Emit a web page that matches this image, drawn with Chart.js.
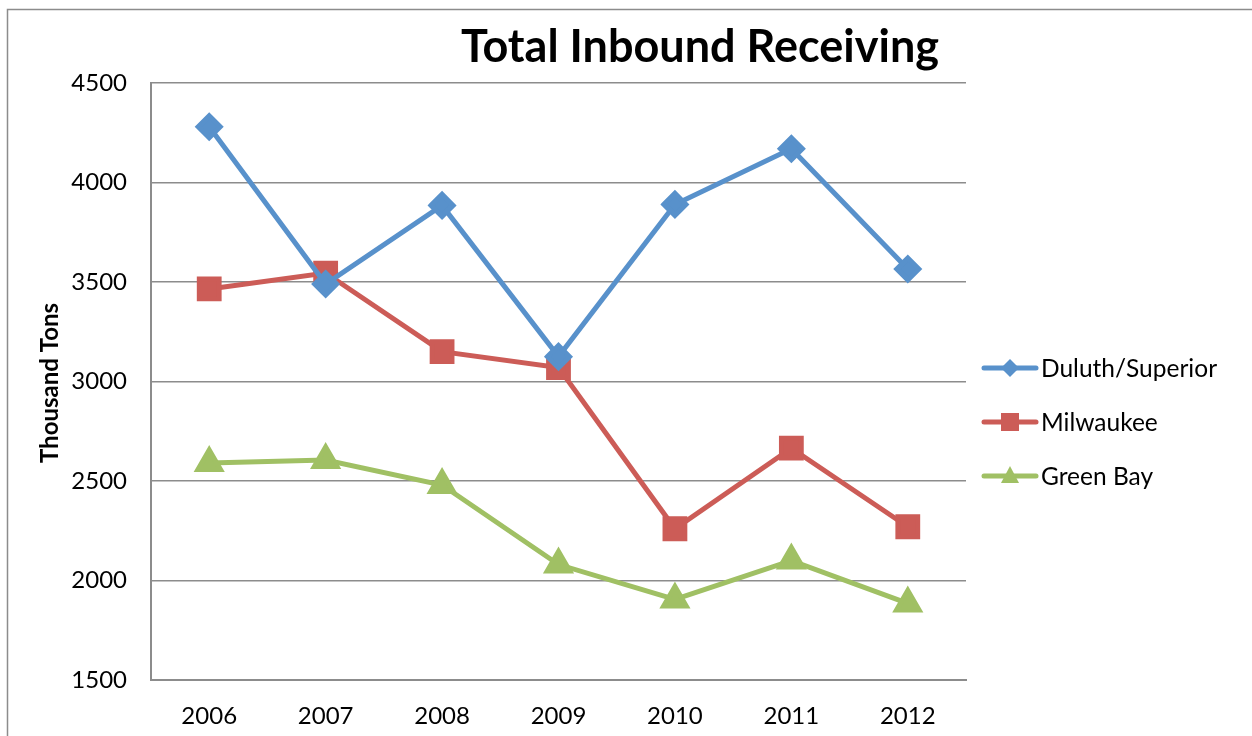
<!DOCTYPE html>
<html>
<head>
<meta charset="utf-8">
<script src="https://cdn.jsdelivr.net/npm/chart.js@4"></script>
<style>
  html, body { margin: 0; padding: 0; background: #fff; overflow: hidden; }
  #wrap { width: 1252px; height: 736px; position: relative; }
</style>
</head>
<body>
<div id="wrap"><canvas id="chart" width="1252" height="736"></canvas></div>
<script>
const years = ['2006', '2007', '2008', '2009', '2010', '2011', '2012'];
const duluth = [4280, 3490, 3885, 3125, 3890, 4170, 3565];
const milwaukee = [3465, 3545, 3150, 3070, 2260, 2665, 2270];
const greenBay = [2590, 2605, 2480, 2080, 1905, 2100, 1885];
const yTicks = { min: 1500, max: 4500, step: 500 };

const FONT = 'Lato, "Open Sans", sans-serif';

// frame, title, axis title and a line+marker legend drawn by hand
const decorPlugin = {
  id: 'decor',
  beforeDraw(chart) {
    const ctx = chart.ctx;
    ctx.save();
    ctx.fillStyle = '#fff';
    ctx.fillRect(0, 0, chart.width, chart.height);
    ctx.strokeStyle = '#8c8c8c';
    ctx.lineWidth = 1.5;
    ctx.strokeRect(7.5, 9.5, 1400, 900);
    ctx.restore();
  },
  afterDraw(chart) {
    const ctx = chart.ctx;
    ctx.save();
    ctx.fillStyle = '#000';
    ctx.font = 'bold 45px ' + FONT;
    ctx.textAlign = 'center';
    ctx.textBaseline = 'middle';
    ctx.fillText('Total Inbound Receiving', 700, 47);

    ctx.translate(50, 383);
    ctx.rotate(-Math.PI / 2);
    ctx.font = 'bold 24px ' + FONT;
    ctx.fillText('Thousand Tons', 0, 0);
    ctx.restore();

    // legend
    ctx.save();
    const rows = [368, 422, 476];
    chart.data.datasets.forEach((ds, i) => {
      const y = rows[i];
      ctx.strokeStyle = ds.borderColor;
      ctx.lineWidth = 5;
      ctx.lineCap = 'round';
      ctx.beginPath();
      ctx.moveTo(984, y);
      ctx.lineTo(1036, y);
      ctx.stroke();
      ctx.fillStyle = ds.backgroundColor;
      const cx = 1010;
      ctx.beginPath();
      if (ds.pointStyle === 'rectRot') {
        ctx.moveTo(cx, y - 9); ctx.lineTo(cx + 9, y); ctx.lineTo(cx, y + 9); ctx.lineTo(cx - 9, y);
      } else if (ds.pointStyle === 'rect') {
        ctx.rect(cx - 9, y - 9, 18, 18);
      } else {
        ctx.moveTo(cx, y - 10); ctx.lineTo(cx + 9, y + 7); ctx.lineTo(cx - 9, y + 7);
      }
      ctx.closePath();
      ctx.fill();
      ctx.fillStyle = '#000';
      ctx.font = '24.5px ' + FONT;
      ctx.textAlign = 'left';
      ctx.textBaseline = 'middle';
      ctx.fillText(ds.label, 1041, y + 1);
    });
    ctx.restore();
  }
};

new Chart(document.getElementById('chart'), {
  type: 'line',
  data: {
    labels: years,
    datasets: [
      {
        label: 'Duluth/Superior',
        data: duluth,
        borderColor: '#5891cb',
        backgroundColor: '#5891cb',
        pointStyle: 'rectRot',
        pointRadius: 11,
        borderWidth: 5
      },
      {
        label: 'Milwaukee',
        data: milwaukee,
        borderColor: '#cc5c57',
        backgroundColor: '#cc5c57',
        pointStyle: 'rect',
        pointRadius: 14,
        borderWidth: 5
      },
      {
        label: 'Green Bay',
        data: greenBay,
        borderColor: '#a0c064',
        backgroundColor: '#a0c064',
        pointStyle: 'triangle',
        pointRadius: 13,
        borderWidth: 5
      }
    ]
  },
  options: {
    responsive: false,
    animation: false,
    layout: { padding: { left: 0, top: 83, right: 286, bottom: 0 } },
    plugins: { legend: { display: false }, tooltip: { enabled: false } },
    elements: { line: { tension: 0 }, point: { borderWidth: 0 } },
    scales: {
      x: {
        offset: true,
        grid: { display: false, drawTicks: false },
        border: { color: '#8c8c8c', width: 2 },
        ticks: { color: '#000', font: { family: FONT, size: 24 }, padding: 22 },
        afterFit(scale) { scale.height = 56; }
      },
      y: {
        min: yTicks.min,
        max: yTicks.max,
        grid: { color: '#8c8c8c', lineWidth: 1.5, drawTicks: false },
        border: { color: '#8c8c8c', width: 2 },
        ticks: {
          stepSize: yTicks.step,
          color: '#000',
          font: { family: FONT, size: 24 },
          padding: 24,
          callback: v => String(v)
        },
        afterFit(scale) { scale.width = 151; }
      }
    }
  },
  plugins: [decorPlugin]
});
</script>
</body>
</html>
